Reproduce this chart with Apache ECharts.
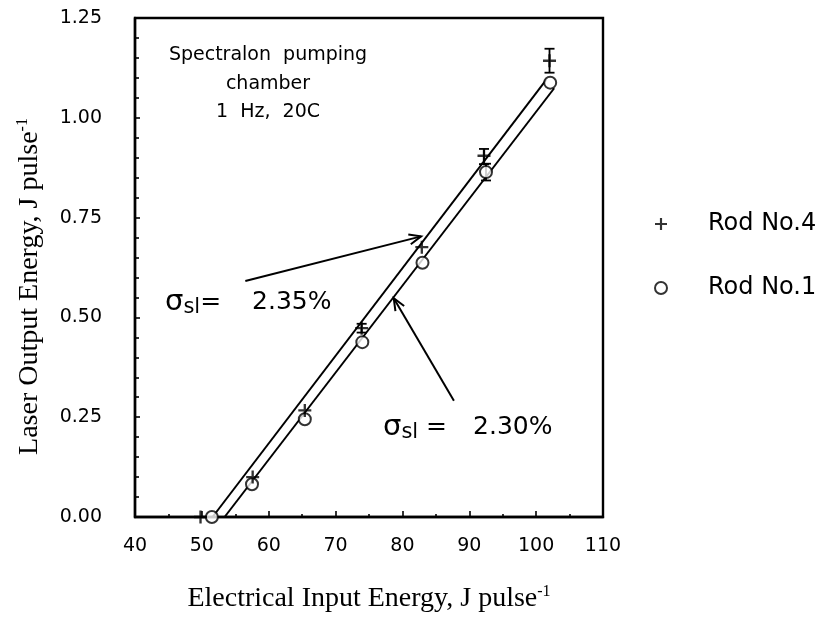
<!DOCTYPE html>
<html>
<head>
<meta charset="utf-8">
<script src="https://cdn.jsdelivr.net/npm/echarts@6/dist/echarts.min.js"></script>
<style>
  html, body { margin: 0; padding: 0; background: #fff; }
  #chart { width: 823px; height: 621px; }
</style>
</head>
<body>
<div id="chart"></div>
<script>
// Measured laser output vs electrical input, two Nd rods
const rod4X = [49.8, 57.6, 65.4, 73.9, 82.9, 92.2, 102.0];
const rod4Y = [0.0, 0.10, 0.267, 0.473, 0.676, 0.905, 1.143];
const rod1X = [51.5, 57.5, 65.4, 74.0, 83.0, 92.5, 102.1];
const rod1Y = [0.0, 0.082, 0.245, 0.438, 0.637, 0.864, 1.088];

// Error bars: [x, low, high]
const rod4Err = [[102.0, 1.113, 1.173], [92.2, 0.884, 0.922], [73.9, 0.462, 0.484]];
const rod1Err = [[92.5, 0.843, 0.885]];

// Linear fits (slope-efficiency lines), end points
const fitRod4 = [[51.6, 0.0], [101.5, 1.095]];
const fitRod1 = [[53.4, 0.0], [102.7, 1.074]];

// Annotation arrows: [x0, y0, x1(tip), y1(tip)]
const arrows = [[56.5, 0.591, 82.8, 0.703], [87.7, 0.291, 78.7, 0.548]];

const xTicks = { min: 40, max: 110, step: 10 };
const yTicks = { min: 0, max: 1.25, step: 0.25 };

const SANS = '"DejaVu Sans", sans-serif';
const SERIF = '"Liberation Serif", "Times New Roman", serif';

const pairs = (xs, ys) => xs.map((x, i) => [x, ys[i]]);

const plusPath = 'path://M4.1,0H5.9V4.1H10V5.9H5.9V10H4.1V5.9H0V4.1H4.1Z';

function errorBarItem(params, api) {
  const x = api.value(0);
  const lo = api.coord([x, api.value(1)]);
  const hi = api.coord([x, api.value(2)]);
  const w = 5;
  const st = { stroke: '#000', lineWidth: 1.8 };
  return {
    type: 'group',
    children: [
      { type: 'line', shape: { x1: lo[0], y1: lo[1], x2: hi[0], y2: hi[1] }, style: st },
      { type: 'line', shape: { x1: lo[0] - w, y1: lo[1], x2: lo[0] + w, y2: lo[1] }, style: st },
      { type: 'line', shape: { x1: hi[0] - w, y1: hi[1], x2: hi[0] + w, y2: hi[1] }, style: st }
    ]
  };
}

function arrowItem(params, api) {
  const p0 = api.coord([api.value(0), api.value(1)]);
  const p1 = api.coord([api.value(2), api.value(3)]);
  const ang = Math.atan2(p1[1] - p0[1], p1[0] - p0[0]);
  const len = 13, spread = 0.4;
  const a1 = [p1[0] - len * Math.cos(ang - spread), p1[1] - len * Math.sin(ang - spread)];
  const a2 = [p1[0] - len * Math.cos(ang + spread), p1[1] - len * Math.sin(ang + spread)];
  const st = { stroke: '#000', lineWidth: 2, fill: null };
  return {
    type: 'group',
    children: [
      { type: 'line', shape: { x1: p0[0], y1: p0[1], x2: p1[0], y2: p1[1] }, style: st },
      { type: 'polyline', shape: { points: [a1, p1, a2] }, style: st }
    ]
  };
}

const chart = echarts.init(document.getElementById('chart'), null, { renderer: 'canvas' });

const sigmaRich = {
  s: { fontFamily: SANS, fontSize: 29, lineHeight: 32, verticalAlign: 'middle', fill: '#000' },
  b: { fontFamily: SANS, fontSize: 21, lineHeight: 32, verticalAlign: 'bottom', fill: '#000' },
  n: { fontFamily: SANS, fontSize: 25, lineHeight: 32, verticalAlign: 'middle', fill: '#000' },
  m1: { fontFamily: SANS, fontSize: 25, lineHeight: 32, verticalAlign: 'middle', fill: '#000', padding: [0, 0, 0, 31] },
  m2: { fontFamily: SANS, fontSize: 25, lineHeight: 32, verticalAlign: 'middle', fill: '#000', padding: [0, 0, 0, 26] }
};

const nameRich = {
  sup: { fontFamily: SERIF, fontSize: 16, verticalAlign: 'top', lineHeight: 30, color: '#000' }
};

chart.setOption({
  animation: false,
  backgroundColor: '#fff',
  grid: {
    left: 135, right: 220, top: 18, bottom: 104,
    show: true, borderColor: '#000', borderWidth: 2.4, backgroundColor: 'transparent'
  },
  legend: {
    orient: 'vertical',
    left: 654, top: 212, padding: 0,
    itemWidth: 12, itemHeight: 12, itemGap: 40,
    data: ['Rod No.4', 'Rod No.1'],
    textStyle: { fontFamily: SANS, fontSize: 24, lineHeight: 14, color: '#000', padding: [0, 0, 0, 36] }
  },
  xAxis: {
    type: 'value',
    min: xTicks.min, max: xTicks.max, interval: xTicks.step,
    name: 'Electrical Input Energy, J pulse{sup|-1}',
    nameLocation: 'middle', nameGap: 67,
    nameTextStyle: { fontFamily: SERIF, fontSize: 28, color: '#000', lineHeight: 30, rich: nameRich },
    axisLine: { show: true, lineStyle: { color: '#000', width: 2.4 } },
    axisTick: { show: true, inside: true, length: 6, lineStyle: { color: '#000', width: 1.6 } },
    minorTick: { show: true, splitNumber: 2, length: 3, lineStyle: { color: '#000', width: 1.6 } },
    splitLine: { show: false },
    axisLabel: { fontFamily: SANS, fontSize: 19, color: '#000', margin: 20 }
  },
  yAxis: {
    type: 'value',
    min: yTicks.min, max: yTicks.max, interval: yTicks.step,
    name: 'Laser Output Energy, J pulse{sup|-1}',
    nameLocation: 'middle', nameGap: 90, nameRotate: 90,
    nameTextStyle: {
      fontFamily: SERIF, fontSize: 28, color: '#000', lineHeight: 30, rich: nameRich,
      padding: [0, 38, 0, 0]
    },
    axisLine: { show: true, lineStyle: { color: '#000', width: 2.4 } },
    axisTick: { show: true, inside: true, length: 5, lineStyle: { color: '#000', width: 1.6 } },
    minorTick: { show: true, splitNumber: 5, length: 4, lineStyle: { color: '#000', width: 1.6 } },
    splitLine: { show: false },
    axisLabel: {
      fontFamily: SANS, fontSize: 19, color: '#000', margin: 33,
      formatter: v => v.toFixed(2)
    }
  },
  graphic: [
    {
      type: 'text', x: 268, y: 41,
      style: {
        text: 'Spectralon  pumping\nchamber\n1  Hz,  20C',
        fontFamily: SANS, fontSize: 19, lineHeight: 28.5, align: 'center', fill: '#000'
      }
    },
    {
      type: 'text', x: 165, y: 286,
      style: { text: '{s|σ}{b|sl}{n|=}{m1|2.35%}', rich: sigmaRich }
    },
    {
      type: 'text', x: 383, y: 411,
      style: { text: '{s|σ}{b|sl}{n| =}{m2|2.30%}', rich: sigmaRich }
    }
  ],
  series: [
    {
      name: 'fit4', type: 'line', data: fitRod4, symbol: 'none',
      lineStyle: { color: '#000', width: 2 }, z: 2, silent: true
    },
    {
      name: 'fit1', type: 'line', data: fitRod1, symbol: 'none',
      lineStyle: { color: '#000', width: 2 }, z: 2, silent: true
    },
    {
      name: 'err4', type: 'custom', renderItem: errorBarItem, data: rod4Err, z: 3, silent: true
    },
    {
      name: 'err1', type: 'custom', renderItem: errorBarItem, data: rod1Err, z: 3, silent: true
    },
    {
      name: 'arrows', type: 'custom', renderItem: arrowItem, data: arrows, z: 3, silent: true
    },
    {
      name: 'Rod No.4', type: 'scatter', data: pairs(rod4X, rod4Y),
      symbol: plusPath, symbolSize: 13,
      itemStyle: { color: '#000' }, z: 5
    },
    {
      name: 'Rod No.1', type: 'scatter', data: pairs(rod1X, rod1Y),
      symbol: 'circle', symbolSize: 12,
      itemStyle: { color: '#fff', borderColor: '#000', borderWidth: 2 }, z: 4
    }
  ]
});
</script>
</body>
</html>
